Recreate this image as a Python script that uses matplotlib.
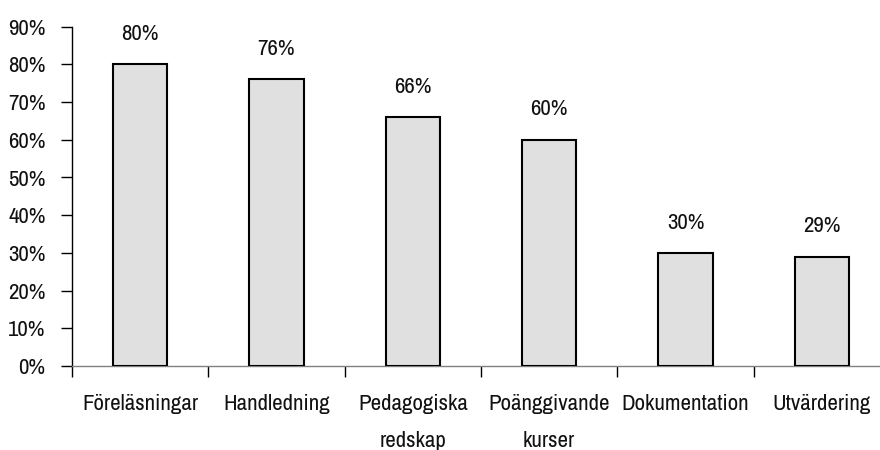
import matplotlib
matplotlib.use("Agg")
import matplotlib.pyplot as plt
from matplotlib.ticker import FixedLocator, PercentFormatter

categories = ["Föreläsningar", "Handledning", "Pedagogiska\nredskap",
              "Poänggivande\nkurser", "Dokumentation", "Utvärdering"]
values = [80, 76, 66, 60, 30, 29]
value_labels = ["80%", "76%", "66%", "60%", "30%", "29%"]
yticks = [0, 10, 20, 30, 40, 50, 60, 70, 80, 90]

plt.rcParams['font.family'] = ['Liberation Sans Narrow', 'Archivo Narrow', 'Roboto Condensed',
                               'Liberation Sans', 'DejaVu Sans']

FS = 16.5

fig = plt.figure(figsize=(8.8, 4.5), dpi=100)
ax = fig.add_axes([72 / 880, 84 / 450, 818 / 880, (366 - 26.7) / 450])

x = list(range(len(categories)))
ax.bar(x, values, width=0.4, color="#e0e0e0", edgecolor="black", linewidth=1.5, zorder=3)

for xi, v, lab in zip(x, values, value_labels):
    ax.annotate(lab, (xi, v), xytext=(0, 17.5), textcoords="offset points",
                ha="center", va="baseline", fontsize=FS, color="#111111")

ax.set_xlim(-0.5, len(categories) - 0.5)
ax.set_ylim(0, 90)
ax.set_yticks(yticks)
ax.yaxis.set_major_formatter(PercentFormatter(decimals=0))
ax.set_xticks(x)
ax.set_xticklabels(categories, fontsize=FS, linespacing=2.1)
ax.xaxis.set_minor_locator(FixedLocator([i - 0.5 for i in range(len(categories) + 1)]))
ax.tick_params(axis="x", which="major", length=0, pad=20, colors="#111111")
ax.tick_params(axis="x", which="minor", length=8, width=1, color="black", direction="out")
ax.tick_params(axis="y", length=8, width=1, direction="out", pad=11, labelsize=FS,
               labelcolor="#111111")

for s in ["top", "right"]:
    ax.spines[s].set_visible(False)
ax.spines["left"].set_color("black")
ax.spines["left"].set_linewidth(1)
ax.spines["bottom"].set_color("#808080")
ax.spines["bottom"].set_linewidth(1)

fig.savefig("out.png", dpi=100)
